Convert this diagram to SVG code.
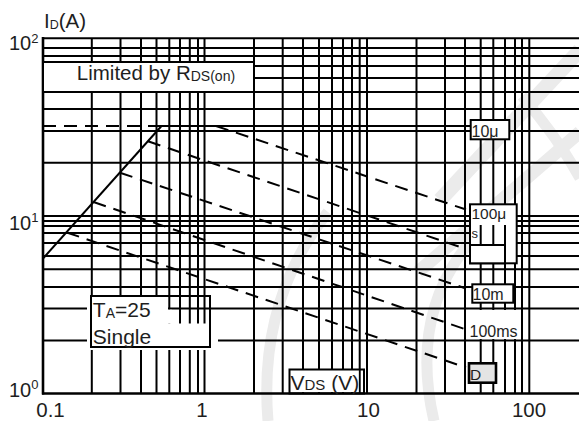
<svg xmlns="http://www.w3.org/2000/svg" width="579" height="421" viewBox="0 0 579 421">
<style>
.g{stroke:#000;stroke-width:2;fill:none}
.ax{stroke:#000;stroke-width:2.6;fill:none}
.d{stroke:#000;stroke-width:2;fill:none;stroke-dasharray:13 8}
.s{stroke:#000;stroke-width:2;fill:none}
.wm{stroke:#ebebeb;fill:none;stroke-linecap:butt}
.w{fill:#fff;stroke:none}
.bx{fill:#fff;stroke:#000;stroke-width:2}
.t{font-family:"Liberation Sans",Arial,sans-serif;fill:#1e1e1e}
</style>
<rect width="579" height="421" fill="#fff"/>
<g id="watermark">
<path class="wm" stroke-width="15" d="M580 50 L440 200"/>
<path class="wm" stroke-width="13" d="M580 132 L418 272"/>
<path class="wm" stroke-width="11" d="M522 96 Q558 138 580 178"/>
<path class="wm" stroke-width="11" d="M328 212 Q258 300 268 421"/>
<path class="wm" stroke-width="11" d="M500 212 Q404 292 434 421"/>
</g>
<g id="grid">
<path class="g" d="M91.8 38V393 M120.5 38V393 M141 38V393 M156.5 38V393 M169.3 38V393 M180 38V393 M189.8 38V393 M198 38V393 M204.5 38V393 M254 38V393 M282.7 38V393 M303 38V393 M319 38V393 M332 38V393 M343 38V393 M352 38V393 M359.7 38V393 M367 38V393 M416.5 38V393 M445 38V393 M465 38V393 M480.7 38V393 M493.3 38V393 M505 38V393 M515 38V393 M522 38V393 M529.3 38V393"/>
<path class="g" d="M43 48H579 M43 56H579 M43 66H579 M43 78H579 M43 92H579 M43 109H579 M43 131H579 M43 162.7H579 M43 216H579 M43 221H579 M43 226H579 M43 233H579 M43 243H579 M43 256H579 M43 269.3H579 M43 287H579 M43 308.5H579 M43 340.5H579"/>
<path class="g" d="M43 38.3H579"/>
</g>
<g id="connectors">
<path class="d" d="M43 126H160"/>
<path class="s" d="M160 126H471"/>
<path class="s" d="M43 258.5L161.5 126"/>
<path class="d" d="M216 126L466 209.5"/>
<path class="d" d="M148 141.3L466 249"/>
<path class="d" d="M120 172.7L466 288.5"/>
<path class="d" d="M93.5 202L466 329.5"/>
<path class="d" d="M66.7 232.5L466 367.5"/>
</g>
<g id="axes">
<path class="ax" d="M43 37V394.5"/>
<path class="ax" d="M42 393.5H579"/>
</g>
<g id="label-limited">
<rect class="bx" x="43" y="62" width="211" height="30"/>
<text class="t" x="76.8" y="80" font-size="20.5">Limited by R<tspan font-size="14" dy="1">DS(on)</tspan></text>
</g>
<g id="label-ta">
<rect class="w" x="87" y="296" width="81" height="54"/>
<rect class="w" x="168" y="323.5" width="50" height="26.5"/>
<rect class="w" x="164.5" y="309.6" width="7" height="14"/>
<rect x="91" y="296" width="119" height="51" fill="none" stroke="#000" stroke-width="2"/>
<text class="t" x="92.8" y="316.7" font-size="21">T<tspan font-size="14" dy="1">A</tspan><tspan dy="-1">=25</tspan></text>
<text class="t" x="92.8" y="343.5" font-size="21">Single</text>
</g>
<g id="label-vds">
<rect class="w" x="290" y="370" width="68.5" height="22"/>
<rect x="289.5" y="369.5" width="74.5" height="24" fill="none" stroke="#000" stroke-width="2"/>
<text class="t" x="290.5" y="390" font-size="21">V<tspan font-size="15">DS</tspan> (V)</text>
</g>
<g id="label-10u">
<rect class="bx" x="470.7" y="120" width="38.6" height="19.3" stroke-width="2.6"/>
<text class="t" x="471.5" y="136.7" font-size="16">10μ</text>
</g>
<g id="label-100us">
<rect class="bx" x="470" y="204.3" width="46.7" height="59"/>
<path class="g" d="M480.7 225V245 M493.3 225V245 M505 225V263"/>
<rect class="bx" x="470" y="245" width="35" height="18.3"/>
<text class="t" x="471.5" y="219.3" font-size="15.5">100μ</text>
<text class="t" x="471.5" y="237.5" font-size="13">s</text>
</g>
<g id="label-10m">
<rect class="bx" x="472.3" y="284.3" width="41" height="18.4"/>
<text class="t" x="472.5" y="300" font-size="16">10m</text>
</g>
<g id="label-100ms">
<rect class="w" x="467" y="310" width="53.5" height="29"/>
<text class="t" x="469.5" y="336.7" font-size="16">100ms</text>
</g>
<g id="label-d">
<rect x="469" y="363.3" width="27" height="19.4" fill="#e4e4e4" stroke="#000" stroke-width="2.6"/>
<text class="t" x="470" y="380" font-size="15.5">D</text>
</g>
<g id="axis-labels">
<text class="t" x="44" y="28.3" font-size="20.5">I<tspan font-size="12.5" dy="0.5">D</tspan><tspan dy="-0.5">(A)</tspan></text>
<text class="t" x="9" y="50" font-size="20">10<tspan font-size="13" dy="-7.5">2</tspan></text>
<text class="t" x="9" y="229.5" font-size="20">10<tspan font-size="13" dy="-7.5">1</tspan></text>
<text class="t" x="9" y="396.5" font-size="20">10<tspan font-size="13" dy="-7.5">0</tspan></text>
<text class="t" x="50.5" y="416.5" font-size="20.5" text-anchor="middle">0.1</text>
<text class="t" x="202" y="416.5" font-size="20.5" text-anchor="middle">1</text>
<text class="t" x="368.5" y="416.5" font-size="20.5" text-anchor="middle">10</text>
<text class="t" x="529" y="416.5" font-size="20.5" text-anchor="middle">100</text>
</g>
</svg>
